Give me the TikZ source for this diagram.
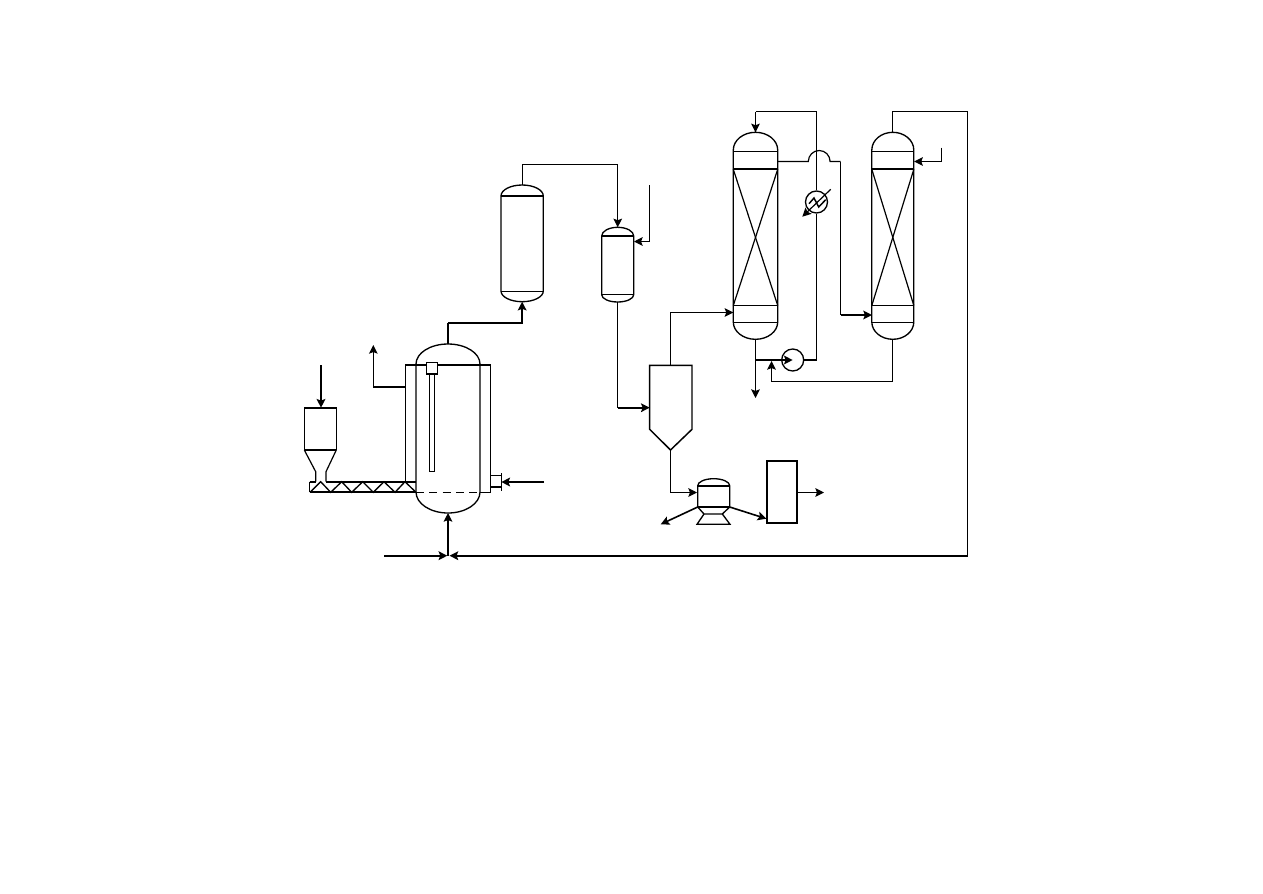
\documentclass[tikz,border=0pt]{standalone}
\usepackage{amsmath}
\usetikzlibrary{arrows.meta,positioning}
\tikzset{
  pipe/.style={black, line width=0.9pt},
  pipeflow/.style={pipe, -{Stealth[length=6.5pt,width=6.5pt,inset=1.2pt]}},
  heavy/.style={black, line width=1.4pt},
  heavyflow/.style={heavy, -{Stealth[length=6.5pt,width=6.5pt,inset=1.2pt]}},
  round unit/.style={draw=black, circle, line width=1pt, minimum size=16.5pt, inner sep=0pt, fill=white}
}
% name, left, right, top, upper seam, lower seam, bottom
\newcommand{\vessel}[7]{
  \draw [pipe, line width=1pt] (#2,-#5) arc [start angle=180, end angle=0, x radius={(#3-#2)/2}, y radius={#5-#4}]
    -- (#3,-#6) arc [start angle=0, end angle=-180, x radius={(#3-#2)/2}, y radius={#7-#6}] -- cycle;
  \coordinate (#1top) at ({(#2+#3)/2},-#4);
  \coordinate (#1bot) at ({(#2+#3)/2},-#7);
}
% packed column between two hoods
\newcommand{\column}[3]{
  \vessel{#1}{#2}{#3}{132.3}{150}{322}{339.3}
  \draw [pipe, line width=1pt] (#2,-151.7) -- (#3,-151.7);
  \draw [heavy] (#2,-169.3) -- (#3,-169.3);
  \draw [pipe, line width=1.1pt] (#2,-305.5) -- (#3,-305.5);
  \draw [pipe, line width=1.1pt] (#2,-322.7) -- (#3,-322.7);
  \draw [pipe] (#2,-169.3) -- (#3,-305.5);
  \draw [pipe] (#3,-169.3) -- (#2,-305.5);
}
\begin{document}
\begin{tikzpicture}[x=0.75pt,y=0.75pt]
  \useasboundingbox (0,0) rectangle (1263,-893);

  % reactor with jacket
  \vessel{reactor}{416}{480}{344}{364}{492}{513}
  \draw [pipe] (416,-481.7) -- (405.3,-481.7) -- (405.3,-365) -- (490.7,-365) -- (490.7,-492.3) -- (480,-492.3);
  \draw [heavy, dash pattern=on 6pt off 4pt, line width=1.2pt] (416,-492.3) -- (480,-492.3);
  \draw [heavy, line width=1pt, fill=white] (429.7,-374) rectangle (434.7,-471.3);
  \draw [heavy, line width=1.1pt, fill=white] (426.7,-362.7) rectangle (437.3,-374);
  \coordinate (jacketout) at (405.3,-386.7);
  \coordinate (gasvent) at (373.3,-345);
  \draw [heavy] (jacketout) -- (373.3,-386.7);
  \draw [pipeflow] (373.3,-386.7) -- (gasvent);
  \coordinate (jacketin) at (544,-482);
  \coordinate (portface) at (501.3,-482);
  \draw [heavy, line width=1pt] (490.7,-475.7) -- (501.3,-475.7);
  \draw [heavy, line width=1pt] (490.7,-487) -- (501.3,-487);
  \draw [heavy, line width=1pt] (501.3,-473.3) -- (501.3,-490.7);
  \draw [heavyflow] (jacketin) -- (portface);

  % hopper and screw feeder
  \coordinate (hoppertop) at (321,-407.7);
  \coordinate (solidsin) at (321,-365);
  \draw [pipe, line width=1pt] (304.3,-450) -- (304.3,-407.7) -- (336.3,-407.7) -- (336.3,-450);
  \draw [heavy] (304.3,-407.7) -- (336.3,-407.7);
  \draw [heavy] (304.3,-450) -- (336.3,-450);
  \draw [pipe] (304.3,-450) -- (315.7,-471.7) -- (315.7,-481.7);
  \draw [pipe] (336.3,-450) -- (326,-471.7) -- (326,-481.7);
  \draw [heavyflow] (solidsin) -- (hoppertop);
  \draw [heavy] (309.7,-481.7) -- (315.7,-481.7);
  \draw [heavy] (326,-481.7) -- (416,-481.7);
  \draw [heavy] (309.7,-492.3) -- (416,-492.3);
  \draw [pipe] (309.7,-481.7) -- (309.7,-492.3);
  \draw [pipe, line width=1pt] (310,-492.3) -- (320.7,-481.7) -- (330.7,-492.3) -- (341.7,-481.7) -- (351.7,-492.3)
    -- (362.7,-481.7) -- (373.3,-492.3) -- (384,-481.7) -- (395,-492.3) -- (405,-481.7) -- (416,-492.3);

  % feed header under the reactor
  \coordinate (tee) at (448,-555.7);
  \coordinate (airin) at (384,-555.7);
  \draw [heavyflow] (airin) -- (447.3,-555.7);
  \draw [pipeflow] (tee) -- (reactorbot);

  % scrubbers
  \vessel{dryer}{501}{543.3}{185}{196}{291}{301.7}
  \draw [heavy] (501,-196) -- (543.3,-196);
  \draw [pipe] (501,-291.5) -- (543.3,-291.5);
  \vessel{mixer}{601.7}{633.7}{227.3}{236}{294.7}{302}
  \draw [heavy] (601.7,-236) -- (633.7,-236);
  \draw [pipe] (601.7,-294.5) -- (633.7,-294.5);
  \draw [pipe] (reactortop) -- ++(0,21);
  \draw [heavyflow] (448,-323) -| (dryerbot);
  \draw [pipeflow] (dryertop) -- ++(0,20.7) -| (mixertop);
  \coordinate (steamend) at (649.5,-185);
  \coordinate (steamin) at (634,-241.5);
  \draw [pipeflow] (steamend) |- (steamin);

  % settler
  \coordinate (settlerin) at (649.7,-407.7);
  \coordinate (settlertop) at (670.5,-365.3);
  \coordinate (settlerbot) at (670.5,-450);
  \draw [pipe, line width=1.1pt] (649.7,-365.3) -- (692,-365.3) -- (692,-429.3) -- (settlerbot) -- (649.7,-429.3) -- cycle;
  \draw [pipe] (mixerbot) |- (617.7,-407.7);
  \draw [heavyflow] (617.7,-407.7) -- (settlerin);

  % absorption columns
  \column{colone}{733.3}{777.7}
  \column{coltwo}{871.8}{913.8}
  \coordinate (colonein) at (733.3,-312.5);
  \draw [pipeflow] (settlertop) |- (colonein);

  % pump and cooler on the circulation line
  \node [round unit] (pump) at (792.7,-360) {};
  \node [round unit] (cooler) at (816.5,-202) {};
  \coordinate (colonetee) at (755.5,-360);
  \coordinate (drain) at (755.5,-398);
  \coordinate (refluxtop) at (755.5,-111.5);
  \draw [pipeflow] (colonebot) -- (drain);
  \draw [heavy] (pump.east) -- (816.5,-360);
  \draw [pipe] (816.5,-360) -- (cooler.south);
  \draw [pipe] (cooler.north) -- (816.5,-111.5) -- (refluxtop);
  \draw [pipeflow] (refluxtop) -- (colonetop);
  \draw [heavyflow] (colonetee) -- (pump.center);
  \coordinate (coolerout) at (802.3,-216.7);
  \coordinate (coolerback) at (830.7,-189.3);
  \draw [pipeflow] (coolerback) -- (coolerout);
  \draw [pipe, line width=1.1pt] (809,-203.7) -- (814,-198) -- (818.7,-207) -- (825.7,-199.7);

  % transfer line over the circulation line
  \coordinate (colonegas) at (777.7,-161.5);
  \coordinate (coltwoin) at (872,-315);
  \draw [pipe] (colonegas) -- (808.3,-161.5) arc [start angle=180, end angle=0, x radius=10.9, y radius=11] -- (840.5,-161.5);
  \draw [pipe] (840.5,-161.5) -- (840.5,-315);
  \draw [heavyflow] (840.5,-315) -- (coltwoin);
  \coordinate (waterend) at (941.5,-147.7);
  \coordinate (waterin) at (914.2,-161.5);
  \draw [pipeflow] (waterend) |- (waterin);
  \coordinate (pumpsuction) at (771.5,-361);
  \draw [pipeflow] (coltwobot) -- ++(0,-42.2) -| (pumpsuction);
  \draw [pipe] (coltwotop) -- ++(0,20.8) -- (967.5,-111.5) -- (967.5,-555.7);
  \draw [heavyflow] (967.5,-555.7) -- (449.5,-555.7);

  % centrifuge and filter
  \vessel{spinner}{697.7}{729.7}{478.7}{485.7}{507}{507}
  \draw [heavy] (697.7,-485.7) -- (729.7,-485.7);
  \draw [heavy] (697.7,-507) -- (729.7,-507);
  \draw [pipe, line width=1pt] (697.7,-507) -- (704,-514) -- (722.3,-514) -- (729.7,-507);
  \draw [pipe, line width=1pt] (704,-514) -- (697,-524.3) -- (730,-524.3) -- (722.3,-514);
  \coordinate (spinnerin) at (697,-492.5);
  \draw [pipeflow] (settlerbot) |- (spinnerin);
  \coordinate (liquorout) at (660.7,-524.3);
  \coordinate (spinnerleft) at (697.7,-507);
  \coordinate (spinnerright) at (729.7,-507);
  \draw [heavyflow, line width=1.2pt] (spinnerleft) -- (liquorout);
  \node [draw=black, line width=1.5pt, minimum width=22.5pt, minimum height=46.5pt, inner sep=0pt] (filter) at (782.3,-492.3) {};
  \coordinate (filterin) at (766.4,-518.7);
  \coordinate (filterout) at (824,-492.5);
  \draw [heavyflow, line width=1.2pt] (spinnerright) -- (filterin);
  \draw [pipeflow] (filter.east |- filterout) -- (filterout);
\end{tikzpicture}
\end{document}
